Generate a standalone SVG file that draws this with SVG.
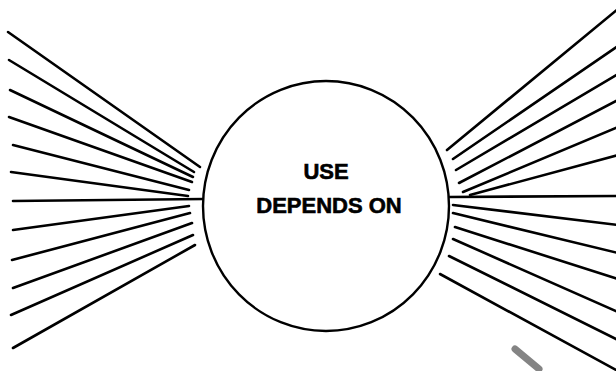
<svg xmlns="http://www.w3.org/2000/svg" width="616" height="371" viewBox="0 0 616 371">
<style>
.ray{stroke:#000;stroke-width:2.6;stroke-linecap:round;fill:none}
.node{fill:#fff;stroke:#000;stroke-width:2.4}
.lbl{font-family:"Liberation Sans",Arial,sans-serif;font-weight:bold;font-size:22px;fill:#000;stroke:#000;stroke-width:0.6;text-anchor:middle}
</style>
<rect width="616" height="371" fill="#fff"/>
<g id="connectors">
<line class="ray" x1="8" y1="32" x2="200" y2="167"/>
<line class="ray" x1="9" y1="60" x2="194" y2="172"/>
<line class="ray" x1="10" y1="90" x2="193" y2="177"/>
<line class="ray" x1="9" y1="117" x2="192" y2="182"/>
<line class="ray" x1="13" y1="145" x2="189" y2="190"/>
<line class="ray" x1="11" y1="172" x2="188" y2="196"/>
<line class="ray" x1="13" y1="201" x2="204" y2="199"/>
<line class="ray" x1="13" y1="230" x2="189" y2="206"/>
<line class="ray" x1="12" y1="260" x2="190" y2="213"/>
<line class="ray" x1="13" y1="288" x2="192" y2="223"/>
<line class="ray" x1="11" y1="315" x2="193" y2="235"/>
<line class="ray" x1="13" y1="348" x2="195" y2="245"/>
<line class="ray" x1="447" y1="150" x2="618" y2="9"/>
<line class="ray" x1="453" y1="159" x2="618" y2="46"/>
<line class="ray" x1="456" y1="170" x2="618" y2="74"/>
<line class="ray" x1="459" y1="183" x2="618" y2="100"/>
<line class="ray" x1="463" y1="192" x2="618" y2="127"/>
<line class="ray" x1="470" y1="195" x2="618" y2="155"/>
<line class="ray" x1="449" y1="197" x2="618" y2="196"/>
<line class="ray" x1="453" y1="205" x2="618" y2="225"/>
<line class="ray" x1="453" y1="213" x2="618" y2="253"/>
<line class="ray" x1="455" y1="227" x2="618" y2="279"/>
<line class="ray" x1="453" y1="239" x2="618" y2="312"/>
<line class="ray" x1="449" y1="256" x2="618" y2="340"/>
<line class="ray" x1="440" y1="274" x2="618" y2="371"/>
</g>
<g id="node-use">
<ellipse class="node" cx="326" cy="206" rx="123" ry="125"/>
<text class="lbl" x="326" y="179">USE</text>
<text class="lbl" x="329" y="213">DEPENDS ON</text>
</g>
<line x1="515" y1="349" x2="539" y2="369" stroke="#666" stroke-width="7" stroke-linecap="round" opacity="0.8"/>
</svg>
